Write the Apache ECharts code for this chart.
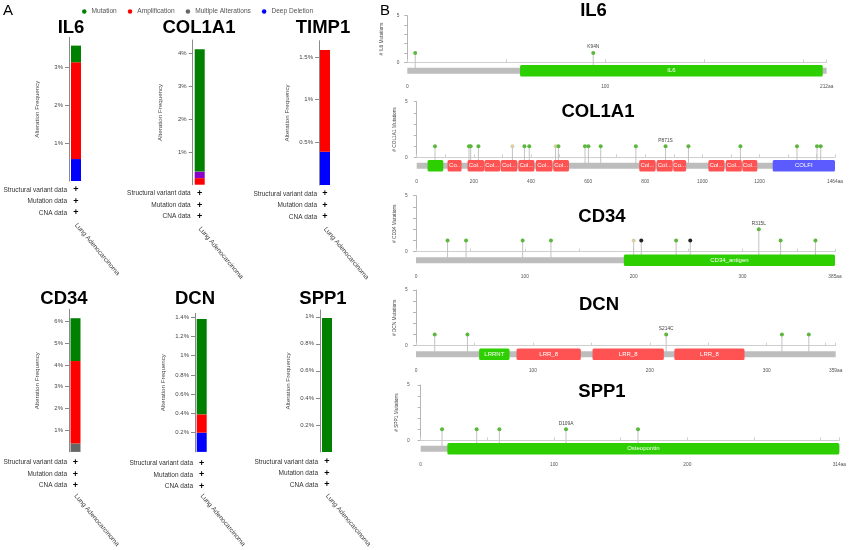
<!DOCTYPE html>
<html><head><meta charset="utf-8">
<script src="https://cdn.jsdelivr.net/npm/echarts@6/dist/echarts.min.js"></script>
<style>html,body{margin:0;padding:0;background:#fff}#c{width:850px;height:550px}</style>
</head><body><div id="c"></div>
<script>
// ================= DATA =================
// Panel A: alteration frequency (%) in Lung Adenocarcinoma
const genesA = ['IL6', 'COL1A1', 'TIMP1', 'CD34', 'DCN', 'SPP1'];
const cancerTypes = ['Lung Adenocarcinoma'];
const legendNames = ['Mutation', 'Amplification', 'Multiple Alterations', 'Deep Deletion'];
const mutationPct = [0.44, 3.74, 0, 1.97, 0.99, 0.99];
const amplificationPct = [2.56, 0.20, 1.19, 3.79, 0.19, 0];
const multipleAltPct = [0, 0, 0, 0.39, 0, 0];
const structuralVarPct = [0, 0.20, 0, 0, 0, 0];
const deepDeletionPct = [0.58, 0, 0.39, 0, 0.20, 0];
const axisMaxPct = [3.8, 4.42, 1.69, 6.56, 1.44, 1.05];
const tickLabelsPct = [
  [1, 2, 3],
  [1, 2, 3, 4],
  [0.5, 1, 1.5],
  [1, 2, 3, 4, 5, 6],
  [0.2, 0.4, 0.6, 0.8, 1, 1.2, 1.4],
  [0.2, 0.4, 0.6, 0.8, 1]
];
const profileRows = ['Structural variant data', 'Mutation data', 'CNA data'];

// Panel B: lollipop mutation plots
const proteins = ['IL6', 'COL1A1', 'CD34', 'DCN', 'SPP1'];
const proteinLength = [212, 1464, 385, 359, 314];
const mutPos = [
  [4, 94],
  [64, 183, 189, 216, 335, 377, 394, 486, 496, 589, 601, 644, 767, 871, 951, 1133, 1331, 1401, 1414],
  [29, 46, 98, 124, 200, 207, 239, 252, 315, 335, 367],
  [16, 44, 214, 313, 336],
  [16, 42, 59, 109, 163]
];
const mutCount = [
  [1, 1],
  [1, 1, 1, 1, 1, 1, 1, 1, 1, 1, 1, 1, 1, 1, 1, 1, 1, 1, 1],
  [1, 1, 1, 1, 1, 1, 1, 1, 2, 1, 1],
  [1, 1, 1, 1, 1],
  [1, 1, 1, 1, 1]
];
const mutType = [
  ['m', 'm'],
  ['m', 'm', 'm', 'm', 'o', 'm', 'm', 'o', 'm', 'm', 'm', 'm', 'm', 'm', 'm', 'm', 'm', 'm', 'm'],
  ['m', 'm', 'm', 'm', 'o', 't', 'm', 't', 'm', 'm', 'm'],
  ['m', 'm', 'm', 'm', 'm'],
  ['m', 'm', 'm', 'm', 'm']
];
const mutLabel = [
  ['', 'K94N'],
  ['', '', '', '', '', '', '', '', '', '', '', '', '', 'P871S', '', '', '', '', ''],
  ['', '', '', '', '', '', '', '', 'R315L', '', ''],
  ['', '', 'S214C', '', ''],
  ['', '', '', 'D109A', '']
];
const domainStart = [
  [57],
  [38, 108, 178, 237, 294, 356, 417, 478, 779, 840, 898, 1021, 1082, 1140, 1246],
  [191],
  [54, 86, 151, 221],
  [20]
];
const domainEnd = [
  [210],
  [93, 157, 236, 292, 352, 412, 475, 533, 836, 896, 943, 1077, 1138, 1192, 1464],
  [385],
  [80, 141, 212, 281],
  [314]
];
const domainName = [
  ['IL6'],
  ['', 'Co..', 'Col...', 'Col...', 'Col...', 'Col...', 'Col...', 'Col...', 'Col...', 'Col...', 'Co...', 'Col...', 'Col...', 'Col...', 'COLFI'],
  ['CD34_antigen'],
  ['LRRNT', 'LRR_8', 'LRR_8', 'LRR_8'],
  ['Osteopontin']
];
const domainColorKey = [
  ['g'],
  ['g', 'r', 'r', 'r', 'r', 'r', 'r', 'r', 'r', 'r', 'r', 'r', 'r', 'r', 'b'],
  ['g'],
  ['g', 'r', 'r', 'r'],
  ['g']
];
const xTickValues = [
  [0, 50, 100, 150, 200, 212],
  [0, 100, 200, 300, 400, 500, 600, 700, 800, 900, 1000, 1100, 1200, 1300, 1400, 1464],
  [0, 50, 100, 150, 200, 250, 300, 350, 385],
  [0, 50, 100, 150, 200, 250, 300, 350, 359],
  [0, 50, 100, 150, 200, 250, 300, 314]
];
const xLabelValues = [
  [0, 100, 212],
  [0, 200, 400, 600, 800, 1000, 1200, 1464],
  [0, 100, 200, 300, 385],
  [0, 100, 200, 300, 359],
  [0, 100, 200, 314]
];
const yTickValuesB = [0, 1, 2, 3, 4, 5];
const yLabelValuesB = [0, 5];

// ================= STYLE / LAYOUT =================
const FONT = 'Liberation Sans, Arial, Helvetica, sans-serif';
const C_MUT = '#008000', C_AMP = '#ff0000', C_MULTI = '#666666', C_SV = '#8b00c9', C_DEL = '#0000ff';
const domainColors = { g: '#2dcf00', r: '#ff5353', b: '#5b5bff' };
const headColors = { m: '#5cb83c', t: '#222222', o: '#d9cfa8' };

const layoutA = [
  { left: 69, top: 37.3, bottom: 181, width: 14, tx: 71, ty: 27 },
  { left: 192.7, top: 40, bottom: 184.7, width: 14, tx: 199, ty: 27 },
  { left: 319, top: 40.7, bottom: 185, width: 12, tx: 323, ty: 27 },
  { left: 69, top: 309.3, bottom: 453.7, width: 13, tx: 64, ty: 298 },
  { left: 195, top: 313.3, bottom: 454.3, width: 13.4, tx: 195, ty: 298 },
  { left: 320, top: 310, bottom: 453, width: 14, tx: 323, ty: 298 }
];
const layoutB = [
  { left: 407.3, right: 826.7, y5: 15.7, y0: 62.3, yOff: 5, nameGap: 18, tx: 593.5, ty: 11 },
  { left: 416.7, right: 835, y5: 101.7, y0: 157.3, yOff: 6, nameGap: 14, tx: 598, ty: 112 },
  { left: 416, right: 835, y5: 195.7, y0: 251.7, yOff: 5.3, nameGap: 14, tx: 602, ty: 217 },
  { left: 416, right: 835.7, y5: 290, y0: 345.7, yOff: 5.3, nameGap: 14, tx: 599, ty: 305 },
  { left: 420.7, right: 839.3, y5: 385, y0: 440.3, yOff: 8, nameGap: 14, tx: 602, ty: 392 }
];

const grids = [], xAxes = [], yAxes = [], series = [], graphics = [];

function txt(text, x, y, fontSize, opts) {
  opts = opts || {};
  return {
    type: 'text', x: x, y: y, silent: true, rotation: opts.rotation || 0,
    style: {
      text: text, fontSize: fontSize, fontFamily: FONT, fontWeight: opts.weight || 'normal',
      fill: opts.fill || '#000', align: opts.align || 'center', textAlign: opts.align || 'center',
      verticalAlign: 'middle', textVerticalAlign: 'middle'
    }
  };
}

// ---------- Panel A ----------
genesA.forEach((g, i) => {
  const L = layoutA[i];
  grids.push({ left: L.left, top: L.top, width: L.width, height: L.bottom - L.top });
  xAxes.push({
    gridIndex: i, type: 'category', data: cancerTypes,
    axisLine: { show: false }, axisTick: { show: false },
    axisLabel: { rotate: -50, margin: 43, fontSize: 6.6, color: '#444', fontFamily: FONT }
  });
  yAxes.push({
    gridIndex: i, type: 'value', min: 0, max: axisMaxPct[i],
    axisLine: { show: true, lineStyle: { color: '#8a8a8a', width: 1 } },
    axisTick: { show: true, length: 4, customValues: tickLabelsPct[i], lineStyle: { color: '#8a8a8a' } },
    axisLabel: { customValues: tickLabelsPct[i], formatter: v => v + '%', fontSize: 6, color: '#444', margin: 6, fontFamily: FONT },
    splitLine: { show: false },
    name: 'Alteration Frequency', nameLocation: 'middle', nameRotate: 90, nameGap: 29,
    nameTextStyle: { fontSize: 6.2, color: '#444', fontFamily: FONT }
  });
  const stackDefs = [
    ['Deep Deletion', deepDeletionPct, C_DEL],
    ['Multiple Alterations', multipleAltPct, C_MULTI],
    ['Amplification', amplificationPct, C_AMP],
    ['Structural Variant', structuralVarPct, C_SV],
    ['Mutation', mutationPct, C_MUT]
  ];
  stackDefs.forEach(d => {
    series.push({
      type: 'bar', name: d[0], xAxisIndex: i, yAxisIndex: i, stack: 'a' + i,
      barWidth: 10, data: [d[1][i] === 0 ? '-' : d[1][i]],
      itemStyle: { color: d[2] }, silent: true
    });
  });
  graphics.push(txt(g, L.tx, L.ty + 1, 18.5, { weight: 'bold' }));
  const rowDy = [9, 20.5, 32];
  profileRows.forEach((r, k) => {
    graphics.push(txt(r, L.left - 2, L.bottom + rowDy[k], 6.5, { align: 'right', fill: '#333' }));
    graphics.push(txt('+', L.left + L.width / 2, L.bottom + rowDy[k], 9, { weight: 'bold' }));
  });
});

// ---------- Panel B ----------
proteins.forEach((p, k) => {
  const B = layoutB[k];
  const gi = genesA.length + k;
  const len = proteinLength[k];
  grids.push({ left: B.left, top: B.y5, width: B.right - B.left, height: B.y0 - B.y5 });
  xAxes.push({
    gridIndex: gi, type: 'value', min: 0, max: len, offset: 17,
    axisLine: { show: true, lineStyle: { color: '#cfcfcf' } },
    axisTick: { show: true, inside: true, length: 3, customValues: xTickValues[k], lineStyle: { color: '#cfcfcf' } },
    axisLabel: { customValues: xLabelValues[k], formatter: v => (v === len ? v + 'aa' : String(v)), fontSize: 4.8, color: '#555', margin: 5, fontFamily: FONT },
    splitLine: { show: false }
  });
  yAxes.push({
    gridIndex: gi, type: 'value', min: 0, max: 5, offset: B.yOff,
    axisLine: { show: true, lineStyle: { color: '#b5b5b5' } },
    axisTick: { show: true, length: 3, customValues: yTickValuesB, lineStyle: { color: '#b5b5b5' } },
    axisLabel: { customValues: yLabelValuesB, fontSize: 4.8, color: '#555', margin: 3, fontFamily: FONT },
    splitLine: { show: false },
    name: '# ' + p + ' Mutations', nameLocation: 'middle', nameRotate: 90, nameGap: B.nameGap,
    nameTextStyle: { fontSize: 4.8, color: '#444', fontFamily: FONT }
  });
  // lollipops
  series.push({
    type: 'custom', xAxisIndex: gi, yAxisIndex: gi, z: 2, silent: true,
    data: mutPos[k].map((x, j) => [x, mutCount[k][j]]),
    renderItem: (params, api) => {
      const j = params.dataIndex;
      const head = api.coord([api.value(0), api.value(1)]);
      const base = api.coord([api.value(0), 0]);
      const ch = [
        { type: 'line', shape: { x1: head[0], y1: base[1] + 6, x2: head[0], y2: head[1] }, style: { stroke: '#c2c2c2', lineWidth: 1 } },
        { type: 'circle', shape: { cx: head[0], cy: head[1], r: 2 }, style: { fill: headColors[mutType[k][j]] } }
      ];
      const lab = mutLabel[k][j];
      if (lab) ch.push({ type: 'text', x: head[0], y: head[1] - 6, style: { text: lab, fontSize: 4.8, fontFamily: FONT, fill: '#444', align: 'center', verticalAlign: 'middle' } });
      return { type: 'group', children: ch };
    }
  });
  // backbone + domains
  const dData = [[0, len]].concat(domainStart[k].map((s, j) => [s, domainEnd[k][j]]));
  series.push({
    type: 'custom', xAxisIndex: gi, yAxisIndex: gi, z: 3, silent: true,
    encode: { x: [0, 1] },
    data: dData,
    renderItem: (params, api) => {
      const j = params.dataIndex;
      const s = api.coord([api.value(0), 0]);
      const e = api.coord([api.value(1), 0]);
      const isBB = j === 0;
      const h = isBB ? 6 : 11.5;
      const cy = s[1] + 8.5;
      const el = {
        type: 'rect',
        shape: { x: s[0], y: cy - h / 2, width: e[0] - s[0], height: h, r: isBB ? 0 : 1.5 },
        style: { fill: isBB ? '#bdbdbd' : domainColors[domainColorKey[k][j - 1]] }
      };
      if (!isBB && domainName[k][j - 1]) {
        el.textContent = { style: { text: domainName[k][j - 1], fill: '#fff', fontSize: 6, fontFamily: FONT } };
        el.textConfig = { position: 'inside' };
      }
      return el;
    }
  });
  graphics.push(txt(p, B.tx, B.ty, 18.5, { weight: 'bold' }));
});

graphics.push(txt('A', 3, 11, 15, { align: 'left' }));
graphics.push(txt('B', 380, 11, 15, { align: 'left' }));

const chart = echarts.init(document.getElementById('c'), null, { renderer: 'canvas' });
chart.setOption({
  animation: false,
  backgroundColor: '#fff',
  textStyle: { fontFamily: FONT },
  legend: {
    data: legendNames.map(n => ({ name: n, icon: 'circle' })),
    left: 77, top: 3, itemWidth: 4.5, itemHeight: 4.5, itemGap: 11,
    selectedMode: false,
    textStyle: { fontSize: 6.6, color: '#555', fontFamily: FONT }
  },
  grid: grids,
  xAxis: xAxes,
  yAxis: yAxes,
  series: series,
  graphic: graphics
});
</script>
</body></html>
